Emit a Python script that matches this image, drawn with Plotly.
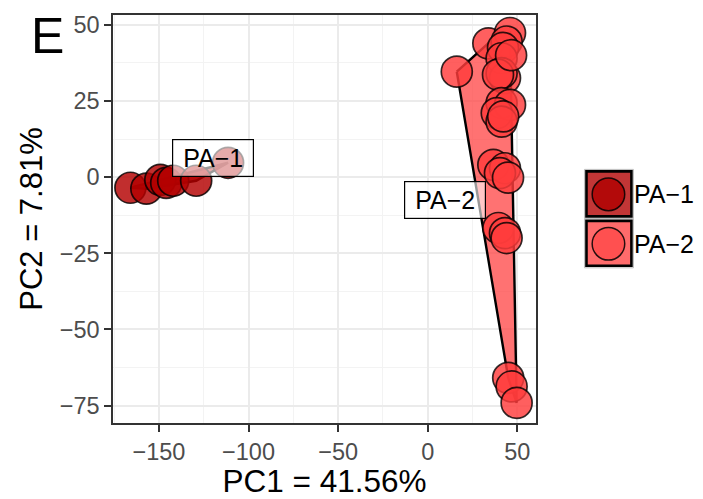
import plotly.graph_objects as go

# PCA scores per group
pa1_pc1 = [-165.9, -157.0, -149.2, -145.9, -142.0, -129.2, -111.4]
pa1_pc2 = [-3.5, -3.8, -0.9, -1.9, -1.2, -1.2, 4.7]

pa2_pc1 = [16.2, 33.8, 45.9, 44.0, 42.0, 41.2, 43.1, 41.2, 39.2, 46.5, 41.2, 45.9,
           38.5, 41.2, 42.1, 36.6, 43.1, 40.3, 44.8, 39.4, 43.1, 44.0, 44.9, 46.8, 49.6]
pa2_pc2 = [34.6, 43.9, 47.3, 44.5, 42.4, 39.0, 32.5, 34.1, 33.6, 40.0, 24.3, 23.7,
           21.0, 18.2, 19.9, 4.0, 2.9, 1.3, -0.2, -16.7, -18.4, -20.0, -65.9, -68.7, -74.1]

groups = ["PA-1", "PA-2"]
label_text = ["PA\u22121", "PA\u22122"]
label_x = [-119.7, 9.6]
label_y = [6.3, -7.4]

x_ticks = [-150, -100, -50, 0, 50]
y_ticks = [-75, -50, -25, 0, 25, 50]

point_fill = ["rgba(179,0,0,0.82)", "rgba(255,60,60,0.82)"]
hull_fill = ["rgba(179,0,0,0.78)", "rgba(255,70,70,0.76)"]
key_fill = ["#C23636", "#FF6B6B"]
key_dot = ["#B30A0A", "#FF5050"]

FONT = "Liberation Sans, Arial, Helvetica, sans-serif"


def convex_hull(xs, ys):
    pts = sorted(set(zip(xs, ys)))

    def cross(o, a, b):
        return (a[0] - o[0]) * (b[1] - o[1]) - (a[1] - o[1]) * (b[0] - o[0])

    lower, upper = [], []
    for p in pts:
        while len(lower) >= 2 and cross(lower[-2], lower[-1], p) <= 0:
            lower.pop()
        lower.append(p)
    for p in reversed(pts):
        while len(upper) >= 2 and cross(upper[-2], upper[-1], p) <= 0:
            upper.pop()
        upper.append(p)
    hull = lower[:-1] + upper[:-1]
    hull.append(hull[0])
    return [p[0] for p in hull], [p[1] for p in hull]


data = [(pa1_pc1, pa1_pc2), (pa2_pc1, pa2_pc2)]

fig = go.Figure()

# group hulls underneath the points
for i, (xs, ys) in enumerate(data):
    hx, hy = convex_hull(xs, ys)
    fig.add_trace(go.Scatter(
        x=hx, y=hy, mode="lines", fill="toself",
        fillcolor=hull_fill[i], line=dict(color="black", width=2.4),
        hoverinfo="skip", showlegend=False,
    ))

for i, (xs, ys) in enumerate(data):
    fig.add_trace(go.Scatter(
        x=xs, y=ys, mode="markers", name=groups[i],
        marker=dict(size=31, color=point_fill[i],
                    line=dict(color="rgba(0,0,0,0.8)", width=1.7)),
        showlegend=False,
    ))

# group labels
for i in range(len(groups)):
    fig.add_annotation(
        x=label_x[i], y=label_y[i], text=label_text[i], showarrow=False,
        font=dict(family=FONT, size=25, color="black"),
        bgcolor="rgba(255,255,255,0.6)", bordercolor="black", borderwidth=1.2,
        borderpad=4, width=72,
    )

# panel letter
fig.add_annotation(
    x=-0.155, y=0.949, xref="paper", yref="paper", text="E", showarrow=False,
    font=dict(family=FONT, size=50, color="black"), xanchor="center", yanchor="middle",
)

# legend built from shapes: fill square + black border + point circle
L, T, B = 112.7, 15.0, 423.3
PW, PH = 536.0 - L, B - T


def px(xp):
    return (xp - L) / PW


def py(yp):
    return (B - yp) / PH


key_tops = [170, 219.5]
for i in range(len(groups)):
    y0 = key_tops[i]
    fig.add_shape(type="rect", xref="paper", yref="paper",
                  x0=px(584.5), x1=px(633.5), y0=py(y0 - 0.5), y1=py(y0 + 48.5),
                  fillcolor="rgba(0,0,0,0)", line=dict(color="#BBBBBB", width=1), layer="above")
    fig.add_shape(type="rect", xref="paper", yref="paper",
                  x0=px(586.5), x1=px(631.5), y0=py(y0 + 1.5), y1=py(y0 + 46.5),
                  fillcolor=key_fill[i], line=dict(color="black", width=2.6), layer="above")
    cx, cy, r = 608.5, y0 + 24.5, 16.3
    fig.add_shape(type="circle", xref="paper", yref="paper",
                  x0=px(cx - r), x1=px(cx + r), y0=py(cy - r), y1=py(cy + r),
                  fillcolor=key_dot[i], line=dict(color="rgba(0,0,0,0.85)", width=1.5), layer="above")
    fig.add_annotation(x=px(632), y=py(cy), xref="paper", yref="paper",
                       text=label_text[i], showarrow=False, xanchor="left", yanchor="middle",
                       font=dict(family=FONT, size=25, color="black"))

axis_common = dict(
    showline=True, linecolor="#333333", linewidth=1.5, mirror=True,
    ticks="outside", ticklen=7, tickwidth=1.5, tickcolor="#333333",
    tickfont=dict(family=FONT, size=23.5, color="#4D4D4D"),
    showgrid=True, gridcolor="#EBEBEB", gridwidth=1.5, zeroline=False,
    automargin=False,
)

fig.update_xaxes(
    range=[-175.6, 60.4], tickvals=x_ticks,
    ticktext=[str(v).replace("-", "\u2212") for v in x_ticks],
    minor=dict(tickvals=[-175, -125, -75, -25, 25], showgrid=True, gridcolor="#F3F3F3", gridwidth=1, ticks=""),
    title=dict(text="PC1 = 41.56%", font=dict(family=FONT, size=31.5, color="black"), standoff=4),
    **axis_common,
)
fig.update_yaxes(
    range=[-80.7, 53.2], tickvals=y_ticks,
    ticktext=[str(v).replace("-", "\u2212") for v in y_ticks],
    minor=dict(tickvals=[-62.5, -37.5, -12.5, 12.5, 37.5], showgrid=True, gridcolor="#F3F3F3", gridwidth=1, ticks=""),
    title=dict(text="PC2 = 7.81%", font=dict(family=FONT, size=31, color="black"), standoff=8),
    **axis_common,
)

fig.update_layout(
    width=703, height=499,
    margin=dict(l=L, r=703 - 536.0, t=T, b=499 - B),
    paper_bgcolor="white", plot_bgcolor="white",
    showlegend=False,
)

fig.write_html("out.html")
